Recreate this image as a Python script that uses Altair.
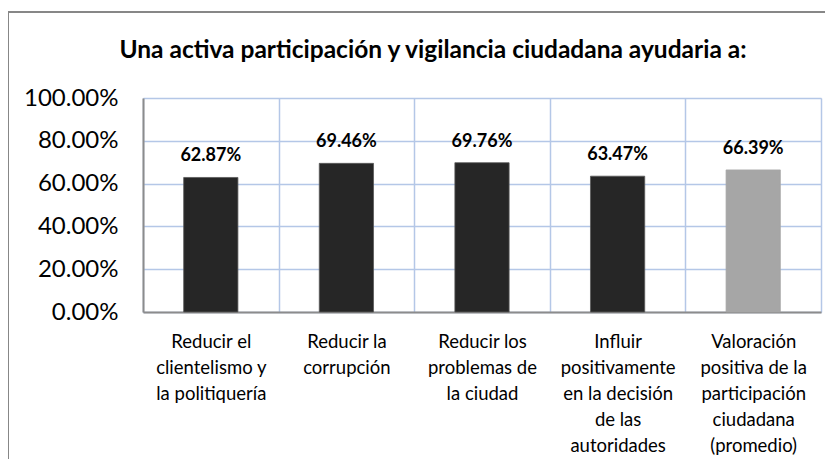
import altair as alt
import pandas as pd

categories = [
    "Reducir el\nclientelismo y\nla politiquería",
    "Reducir la\ncorrupción",
    "Reducir los\nproblemas de\nla ciudad",
    "Influir\npositivamente\nen la decisión\nde las\nautoridades",
    "Valoración\npositiva de la\nparticipación\nciudadana\n(promedio)",
]
values = [0.6287, 0.6946, 0.6976, 0.6347, 0.6639]
bar_colors = ["#262626", "#262626", "#262626", "#262626", "#a6a6a6"]
bar_strokes = ["#595959", "#595959", "#595959", "#595959", "#a6a6a6"]
y_ticks = [0, 0.2, 0.4, 0.6, 0.8, 1.0]
title_text = "Una activa participación y vigilancia ciudadana ayudaria a:"

df = pd.DataFrame({"cat": categories, "val": values, "color": bar_colors, "stroke": bar_strokes})

FONT = "Lato"
W, H = 678, 214
PAD = {"left": 135, "top": 90, "right": 4, "bottom": 147}

x = alt.X(
    "cat:N",
    sort=categories,
    scale=alt.Scale(paddingInner=0, paddingOuter=0),
    axis=alt.Axis(
        title=None,
        labelAngle=0,
        labelExpr="split(datum.label, '\\n')",
        labelFont=FONT,
        labelFontSize=18.5,
        labelLineHeight=26,
        labelColor="#000000",
        labelPadding=20,
        labelBaseline="top",
        ticks=False,
        tickBand="extent",
        grid=True,
        gridColor="#b4c7e7",
        gridWidth=1.5,
        domainColor="#8c8c8c",
        domainWidth=2,
    ),
)
y = alt.Y(
    "val:Q",
    scale=alt.Scale(domain=[0, 1], nice=False),
    axis=alt.Axis(
        title=None,
        values=y_ticks,
        format=".2%",
        labelFont=FONT,
        labelFontSize=24,
        labelColor="#000000",
        labelPadding=25,
        ticks=False,
        grid=True,
        gridColor="#b4c7e7",
        gridWidth=1.5,
        domainColor="#8c8c8c",
        domainWidth=2,
    ),
)

one = alt.Data(values=[{}])
frame_top = alt.Chart(one).mark_rule(color="#878787", strokeWidth=2, clip=False).encode(
    x=alt.value(-PAD["left"]), x2=alt.value(W + PAD["right"]), y=alt.value(-86)
)
frame_left = alt.Chart(one).mark_rule(color="#878787", strokeWidth=2, clip=False).encode(
    x=alt.value(-PAD["left"]), y=alt.value(-86), y2=alt.value(H + PAD["bottom"])
)
title = alt.Chart(one).mark_text(
    text=title_text, font=FONT, fontSize=24.5, fontWeight="bold", color="#000000",
    align="center", baseline="middle", clip=False,
).encode(x=alt.value(290), y=alt.value(-47))

bars = alt.Chart(df).mark_bar(
    width=alt.RelativeBandSize(0.4), strokeWidth=0.8
).encode(
    x=x,
    y=y,
    color=alt.Color("color:N", scale=None, legend=None),
    stroke=alt.Stroke("stroke:N", scale=None, legend=None),
)

labels = alt.Chart(df).mark_text(
    font=FONT, fontSize=18, fontWeight="bold", color="#000000",
    baseline="alphabetic", dy=-16,
).encode(
    x=alt.X("cat:N", sort=categories),
    y="val:Q",
    text=alt.Text("val:Q", format=".2%"),
)

chart = alt.layer(frame_top, frame_left, title, bars, labels).properties(
    width=W,
    height=H,
    padding=PAD,
    autosize=alt.AutoSizeParams(type="none"),
).configure_view(stroke="#b4c7e7", strokeWidth=1.5).configure(background="white")

chart.save("out.html", embed_options={"renderer": "svg", "actions": False})
